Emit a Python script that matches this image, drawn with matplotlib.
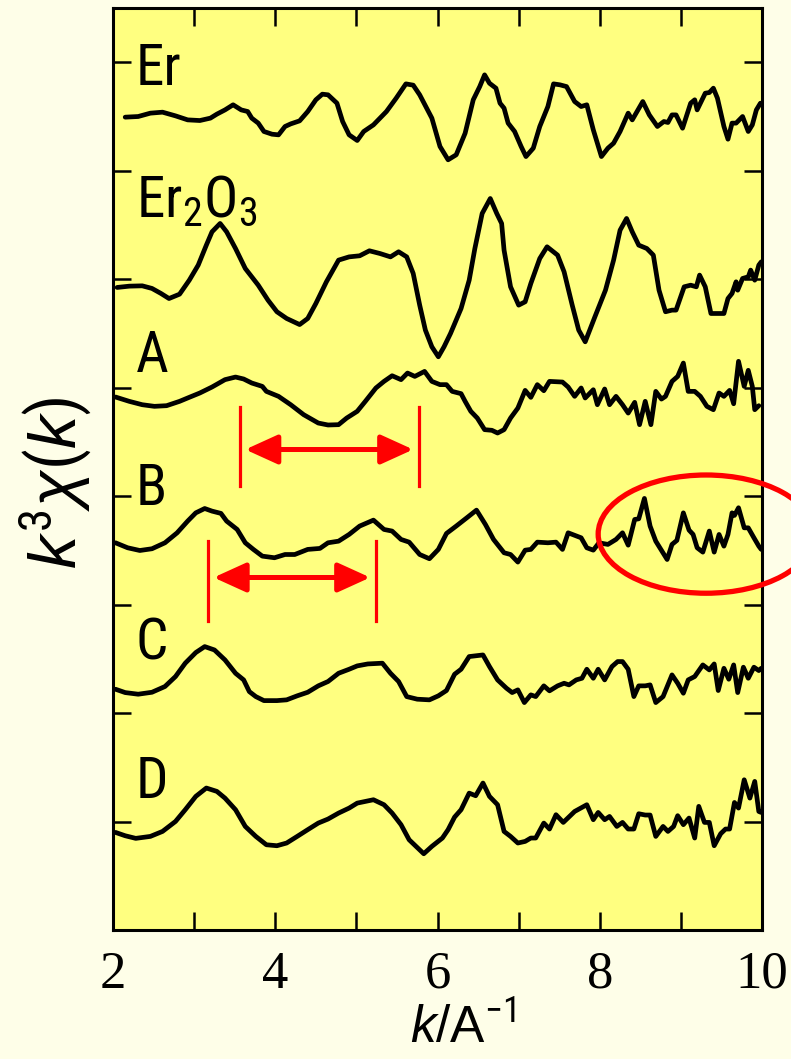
import matplotlib
matplotlib.use("Agg")
import matplotlib.pyplot as plt
from matplotlib import font_manager
from matplotlib.patches import Ellipse
import numpy as np

# ---------------- data ----------------
labels = ["Er", "Er$_2$O$_3$", "A", "B", "C", "D"]
offsets = [6.50, 4.93, 3.92, 2.57, 1.22, -0.10]
label_y = [6.79, 5.57, 4.14, 2.92, 1.49, 0.22]

k_er = [2.15, 2.31, 2.46, 2.61, 2.77, 2.92, 3.07, 3.20, 3.28, 3.38, 3.48, 3.58, 3.66, 3.71, 3.79, 3.86,
        3.96, 4.04, 4.12, 4.19, 4.30, 4.40, 4.50, 4.58, 4.65, 4.76, 4.83, 4.91, 5.01, 5.09, 5.21, 5.37,
        5.49, 5.61, 5.70, 5.78, 5.93, 6.03, 6.13, 6.23, 6.34, 6.44, 6.52, 6.58, 6.64, 6.72, 6.77, 6.82,
        6.87, 6.95, 7.03, 7.09, 7.18, 7.26, 7.36, 7.43, 7.51, 7.59, 7.69, 7.77, 7.84, 7.92, 8.02, 8.10,
        8.17, 8.25, 8.35, 8.40, 8.53, 8.61, 8.71, 8.79, 8.84, 8.89, 8.94, 9.02, 9.12, 9.17, 9.20, 9.30,
        9.35, 9.40, 9.45, 9.53, 9.58, 9.63, 9.68, 9.76, 9.83, 9.88, 9.93, 9.98]
chi_er = [-0.006, 0.0, 0.031, 0.040, 0.006, -0.031, -0.037, -0.015, 0.022, 0.061, 0.108, 0.061, 0.046,
          -0.015, -0.061, -0.138, -0.163, -0.169, -0.092, -0.068, -0.040, 0.046, 0.154, 0.206, 0.200,
          0.123, -0.046, -0.169, -0.221, -0.138, -0.077, 0.046, 0.169, 0.301, 0.289, 0.200, -0.015,
          -0.276, -0.399, -0.353, -0.154, 0.154, 0.276, 0.384, 0.307, 0.261, 0.123, 0.077, -0.061,
          -0.138, -0.276, -0.369, -0.292, -0.092, 0.092, 0.301, 0.292, 0.276, 0.138, 0.092, 0.108,
          -0.123, -0.369, -0.292, -0.246, -0.138, 0.031, -0.031, 0.138, 0.015, -0.092, -0.046, -0.055,
          0.015, 0.015, -0.108, 0.123, 0.154, 0.061, 0.215, 0.221, 0.261, 0.169, -0.092, -0.209,
          -0.061, -0.061, 0.0, -0.138, -0.077, 0.061, 0.123]

k_ox = [2.05, 2.20, 2.36, 2.48, 2.59, 2.69, 2.82, 2.94, 3.05, 3.15, 3.22, 3.32, 3.40, 3.51, 3.63, 3.79,
        3.91, 4.02, 4.14, 4.30, 4.40, 4.50, 4.63, 4.78, 4.91, 5.04, 5.16, 5.29, 5.42, 5.52, 5.62, 5.70,
        5.78, 5.85, 5.93, 6.01, 6.08, 6.16, 6.29, 6.39, 6.46, 6.55, 6.65, 6.73, 6.79, 6.82, 6.90, 7.00,
        7.08, 7.15, 7.26, 7.35, 7.48, 7.56, 7.66, 7.74, 7.82, 7.94, 8.07, 8.17, 8.25, 8.33, 8.40, 8.48,
        8.58, 8.66, 8.73, 8.81, 8.89, 8.94, 9.04, 9.12, 9.19, 9.23, 9.30, 9.37, 9.53, 9.58, 9.63, 9.68,
        9.70, 9.76, 9.83, 9.86, 9.91, 9.96, 9.99]
chi_ox = [-0.006, 0.006, 0.009, -0.015, -0.061, -0.108, -0.068, 0.061, 0.200, 0.384, 0.507, 0.584,
          0.507, 0.353, 0.169, 0.015, -0.123, -0.230, -0.292, -0.348, -0.292, -0.154, 0.046, 0.246,
          0.276, 0.286, 0.332, 0.307, 0.276, 0.323, 0.276, 0.123, -0.169, -0.399, -0.553, -0.645,
          -0.553, -0.430, -0.200, 0.061, 0.353, 0.676, 0.814, 0.676, 0.584, 0.338, 0.0, -0.169,
          -0.138, 0.031, 0.261, 0.369, 0.292, 0.138, -0.169, -0.399, -0.507, -0.276, -0.031, 0.246,
          0.522, 0.630, 0.507, 0.384, 0.353, 0.292, -0.031, -0.230, -0.215, -0.215, 0.0, 0.015, 0.0,
          0.108, 0.0, -0.246, -0.246, -0.108, -0.061, 0.046, -0.031, 0.077, 0.092, 0.154, 0.061,
          0.200, 0.230]

k_a = [2.03, 2.20, 2.36, 2.51, 2.66, 2.82, 2.92, 3.07, 3.22, 3.38, 3.51, 3.61, 3.71, 3.84, 3.89, 4.04,
       4.19, 4.35, 4.53, 4.65, 4.78, 4.88, 5.01, 5.11, 5.24, 5.34, 5.44, 5.55, 5.63, 5.72, 5.84, 5.93,
       6.03, 6.11, 6.18, 6.29, 6.34, 6.41, 6.49, 6.58, 6.67, 6.74, 6.82, 6.90, 6.99, 7.08, 7.15, 7.23,
       7.31, 7.38, 7.54, 7.61, 7.69, 7.77, 7.82, 7.92, 7.97, 8.06, 8.12, 8.20, 8.28, 8.35, 8.43, 8.49,
       8.56, 8.63, 8.69, 8.76, 8.81, 8.89, 8.96, 9.03, 9.09, 9.17, 9.24, 9.32, 9.40, 9.47, 9.53, 9.60,
       9.65, 9.71, 9.78, 9.83, 9.88, 9.91, 9.96]
chi_a = [-0.006, -0.046, -0.077, -0.092, -0.086, -0.046, -0.015, 0.031, 0.086, 0.154, 0.178, 0.160,
         0.123, 0.092, 0.046, 0.0, -0.077, -0.169, -0.246, -0.264, -0.261, -0.200, -0.138, -0.046,
         0.077, 0.138, 0.190, 0.154, 0.215, 0.184, 0.230, 0.138, 0.108, 0.108, 0.046, 0.025, -0.046,
         -0.138, -0.200, -0.307, -0.313, -0.338, -0.307, -0.200, -0.108, 0.055, -0.009, 0.108, 0.052,
         0.138, 0.132, 0.086, 0.0, 0.077, -0.015, 0.061, -0.077, 0.068, -0.077, 0.0, -0.077, -0.154,
         -0.055, -0.261, -0.046, -0.261, 0.046, -0.025, 0.0, 0.138, 0.184, 0.307, 0.046, 0.046, 0.0,
         -0.092, -0.123, 0.031, 0.0, 0.055, -0.068, 0.323, 0.092, 0.240, 0.092, -0.123, -0.086]

k_b = [2.03, 2.18, 2.33, 2.48, 2.64, 2.79, 2.92, 3.02, 3.13, 3.22, 3.33, 3.40, 3.53, 3.63, 3.73, 3.84,
       3.99, 4.12, 4.24, 4.40, 4.55, 4.65, 4.78, 4.91, 5.04, 5.21, 5.34, 5.44, 5.55, 5.65, 5.78, 5.90,
       6.01, 6.11, 6.23, 6.36, 6.48, 6.59, 6.69, 6.82, 6.90, 6.99, 7.08, 7.15, 7.23, 7.36, 7.46, 7.54,
       7.61, 7.77, 7.84, 7.92, 7.99, 8.10, 8.20, 8.28, 8.35, 8.43, 8.48, 8.55, 8.62, 8.69, 8.83, 8.89,
       8.95, 9.03, 9.10, 9.15, 9.20, 9.27, 9.35, 9.41, 9.47, 9.53, 9.58, 9.63, 9.66, 9.71, 9.78, 9.83,
       9.90, 9.96, 9.99]
chi_b = [0.0, -0.046, -0.071, -0.055, 0.0, 0.092, 0.200, 0.276, 0.316, 0.292, 0.271, 0.200, 0.123,
         0.0, -0.061, -0.123, -0.138, -0.108, -0.108, -0.061, -0.052, 0.0, 0.015, 0.077, 0.154, 0.209,
         0.123, 0.108, 0.031, 0.006, -0.108, -0.147, -0.061, 0.086, 0.154, 0.230, 0.301, 0.169, 0.031,
         -0.092, -0.108, -0.178, -0.068, -0.061, 0.006, 0.0, 0.006, -0.061, 0.092, 0.046, -0.046,
         -0.068, 0.0, -0.015, 0.031, 0.092, -0.022, 0.215, 0.221, 0.409, 0.154, 0.015, -0.154, -0.015,
         0.022, 0.276, 0.117, 0.077, -0.046, -0.086, 0.108, -0.086, 0.077, -0.031, 0.077, 0.276,
         0.252, 0.323, 0.138, 0.138, 0.046, -0.031, -0.061]

k_c = [2.03, 2.15, 2.31, 2.48, 2.64, 2.77, 2.89, 3.02, 3.13, 3.25, 3.38, 3.51, 3.61, 3.68, 3.76, 3.86,
       4.02, 4.14, 4.27, 4.40, 4.53, 4.65, 4.78, 4.91, 5.01, 5.14, 5.32, 5.42, 5.52, 5.62, 5.75, 5.90,
       6.01, 6.11, 6.21, 6.29, 6.39, 6.56, 6.64, 6.74, 6.85, 6.92, 6.99, 7.07, 7.15, 7.21, 7.31, 7.38,
       7.48, 7.56, 7.62, 7.71, 7.78, 7.84, 7.92, 7.98, 8.06, 8.15, 8.22, 8.28, 8.35, 8.42, 8.48, 8.56,
       8.62, 8.69, 8.78, 8.89, 8.96, 9.03, 9.09, 9.17, 9.27, 9.35, 9.41, 9.46, 9.53, 9.59, 9.65, 9.70,
       9.77, 9.83, 9.90, 9.96, 9.99]
chi_c = [0.0, -0.031, -0.046, -0.028, 0.025, 0.117, 0.240, 0.338, 0.393, 0.362, 0.270, 0.147, 0.086,
         -0.022, -0.068, -0.105, -0.105, -0.098, -0.061, -0.028, 0.031, 0.071, 0.147, 0.184, 0.215,
         0.233, 0.240, 0.147, 0.071, -0.068, -0.092, -0.098, -0.061, -0.012, 0.138, 0.184, 0.301,
         0.316, 0.209, 0.086, 0.009, -0.031, -0.006, -0.123, -0.052, -0.068, 0.031, -0.015, 0.031,
         0.055, 0.040, 0.086, 0.101, 0.184, 0.101, 0.184, 0.086, 0.209, 0.255, 0.255, 0.184, -0.068,
         0.031, 0.031, 0.040, -0.123, -0.068, 0.132, 0.055, -0.037, 0.086, 0.117, 0.224, 0.178, 0.233,
         -0.012, 0.193, 0.092, 0.224, -0.031, 0.203, 0.101, 0.203, 0.172, 0.193]

k_d = [2.03, 2.15, 2.28, 2.46, 2.61, 2.77, 2.89, 3.02, 3.15, 3.28, 3.38, 3.51, 3.63, 3.76, 3.89, 4.02,
       4.14, 4.27, 4.40, 4.53, 4.65, 4.78, 4.91, 5.01, 5.21, 5.34, 5.44, 5.55, 5.65, 5.83, 5.93, 6.06,
       6.13, 6.21, 6.29, 6.39, 6.47, 6.56, 6.64, 6.74, 6.82, 6.90, 6.99, 7.08, 7.15, 7.21, 7.31, 7.38,
       7.46, 7.55, 7.69, 7.84, 7.92, 7.98, 8.06, 8.12, 8.21, 8.28, 8.35, 8.42, 8.48, 8.56, 8.62, 8.69,
       8.78, 8.84, 8.91, 8.96, 9.03, 9.10, 9.17, 9.22, 9.29, 9.35, 9.41, 9.49, 9.55, 9.60, 9.66, 9.71,
       9.78, 9.85, 9.91, 9.96, 9.99]
chi_d = [0.0, -0.031, -0.055, -0.037, 0.009, 0.101, 0.209, 0.332, 0.409, 0.378, 0.316, 0.209, 0.055,
         -0.037, -0.114, -0.123, -0.098, -0.037, 0.025, 0.086, 0.123, 0.178, 0.224, 0.270, 0.301,
         0.255, 0.178, 0.071, -0.068, -0.197, -0.129, -0.052, 0.025, 0.141, 0.209, 0.362, 0.338,
         0.455, 0.332, 0.255, 0.009, -0.037, -0.098, -0.083, -0.052, -0.052, 0.086, 0.031, 0.163,
         0.092, 0.193, 0.255, 0.117, 0.184, 0.117, 0.147, 0.055, 0.092, 0.031, 0.031, 0.172, 0.160,
         0.160, -0.037, 0.055, 0.009, 0.055, 0.154, 0.071, 0.132, -0.052, 0.240, 0.092, 0.092,
         -0.123, -0.012, 0.031, 0.031, 0.276, 0.224, 0.485, 0.316, 0.470, 0.193, 0.184]

series_k = [k_er, k_ox, k_a, k_b, k_c, k_d]
series_chi = [chi_er, chi_ox, chi_a, chi_b, chi_c, chi_d]

# two period markers (k positions of the vertical bars) and their y-levels
span_a = (3.56, 5.77)
span_a_y = (3.09, 3.82, 3.43)
span_b = (3.17, 5.24)
span_b_y = (1.85, 2.59, 2.25)

# ---------------- fonts ----------------
available = {f.name for f in font_manager.fontManager.ttflist}
def pick(*names):
    for n in names:
        if n in available:
            return n
    return "DejaVu Sans"

sans_narrow = pick("Liberation Sans Narrow", "Roboto Condensed", "Open Sans Condensed", "Liberation Sans")
sans = pick("Liberation Sans", "Roboto", "DejaVu Sans")
serif = pick("Liberation Serif", "DejaVu Serif")

plt.rcParams["mathtext.fontset"] = "custom"
plt.rcParams["mathtext.rm"] = sans_narrow
plt.rcParams["mathtext.it"] = sans + ":italic"
plt.rcParams["mathtext.bf"] = sans + ":bold"

BG = "#FEFEE8"
FACE = "#FFFF80"
RED = "#FF0000"

fig = plt.figure(figsize=(7.91, 10.59), dpi=100, facecolor=BG)
ax = fig.add_axes([0.1429, 0.1218, 0.8205, 0.8706], facecolor=FACE)

for kk, cc, off in zip(series_k, series_chi, offsets):
    ax.plot(kk, np.asarray(cc) + off, color="black", lw=3.4,
            solid_joinstyle="round", solid_capstyle="round")

for lab, ly in zip(labels, label_y):
    ax.text(2.28, ly, lab, fontsize=41, family=sans_narrow, va="baseline", ha="left")

# period bars with double arrows
for (x0, x1), (ylo, yhi, ya) in [(span_a, span_a_y), (span_b, span_b_y)]:
    ax.plot([x0, x0], [ylo, yhi], color=RED, lw=2.3)
    ax.plot([x1, x1], [ylo, yhi], color=RED, lw=2.3)
    ax.annotate("", xy=(x1 - 0.07, ya), xytext=(x0 + 0.07, ya),
                arrowprops=dict(arrowstyle="<|-|>,head_length=1.1,head_width=0.5",
                                mutation_scale=18, lw=3.6, color=RED,
                                shrinkA=0, shrinkB=0))

ax.add_patch(Ellipse((9.31, 2.65), 2.66, 1.09, fill=False, ec=RED, lw=3.8,
                     clip_on=False, zorder=5))

ax.set_xlim(2, 10)
ax.set_ylim(-1, 7.5)
ax.set_xticks([2, 4, 6, 8, 10])
ax.set_xticks([3, 5, 7, 9], minor=True)
ax.set_yticks(range(0, 8))
ax.set_yticklabels([])
ax.tick_params(axis="both", which="both", direction="in", length=13, width=1.8,
               top=True, right=True)
ax.tick_params(axis="x", which="major", labelsize=38, pad=15)
for t in ax.get_xticklabels():
    t.set_family(serif)
for s in ax.spines.values():
    s.set_linewidth(2.2)

ax.set_xlabel(r"$k$/A$^{-1}$", fontsize=37, family=sans)
ax.xaxis.set_label_coords(0.54, -0.081)
ax.set_ylabel(r"$k^{3}\chi(k)$", fontsize=48, family=sans)
ax.yaxis.set_label_coords(-0.03, 0.485)

fig.savefig("out.png", dpi=100, facecolor=BG)
